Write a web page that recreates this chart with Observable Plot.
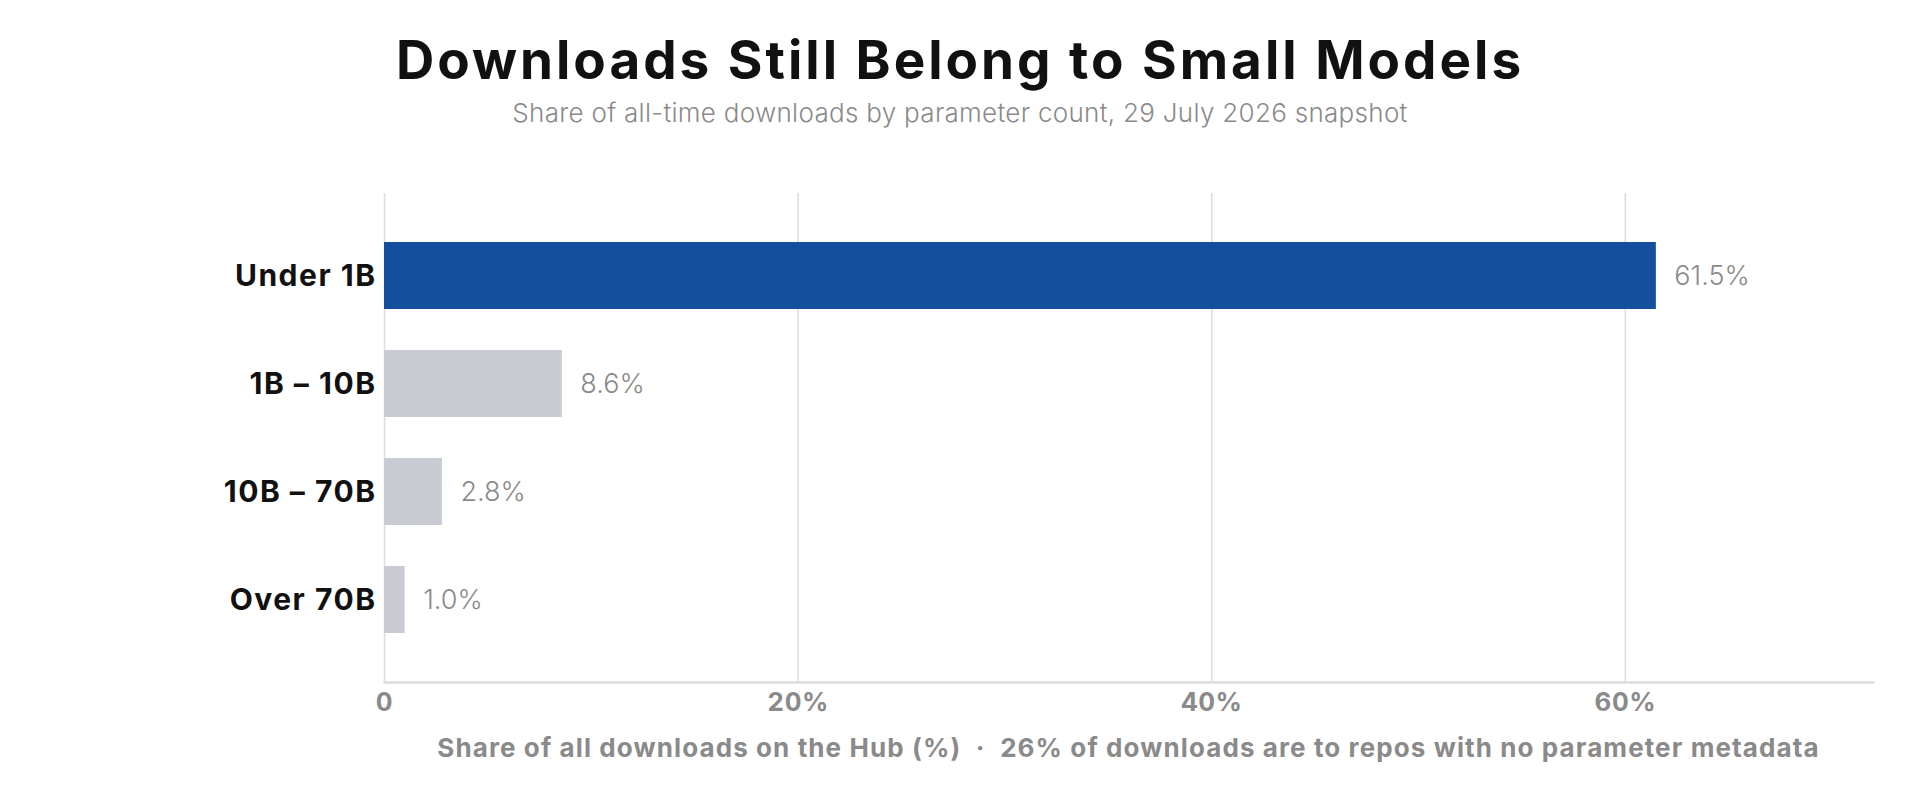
<!DOCTYPE html>
<html>
<head>
<meta charset="utf-8">
<script src="https://cdn.jsdelivr.net/npm/d3@7"></script>
<script src="https://cdn.jsdelivr.net/npm/@observablehq/plot@0.6"></script>
<style>
  html, body { margin: 0; padding: 0; background: #fff; }
  body { width: 1920px; height: 787px; overflow: hidden; font-family: Inter, "Noto Sans", sans-serif; }
  #header { height: 140px; position: relative; }
  #title { position: absolute; left: 0; width: 1920px; text-align: center; top: 30px; font-size: 53px; font-weight: 700; color: #111; line-height: 60px; letter-spacing: 3px; }
  #subtitle { position: absolute; left: 0; width: 1920px; text-align: center; top: 98px; font-size: 26px; font-weight: 300; color: #8a8a8a; line-height: 30px; letter-spacing: 0.3px; }
  #caption { margin-left: 384px; width: 1489px; text-align: center; font-size: 26px; font-weight: 700; color: #8a8a8a; line-height: 36px; letter-spacing: 1.1px; white-space: nowrap; }
  svg { display: block; }
  svg [aria-label="y-axis tick label"] text { letter-spacing: 1.5px; }
  svg [aria-label="x-axis tick label"] text { letter-spacing: 0.5px; }
</style>
</head>
<body>
<div id="header">
  <div id="title">Downloads Still Belong to Small Models</div>
  <div id="subtitle">Share of all-time downloads by parameter count, 29 July 2026 snapshot</div>
</div>
<div id="chart"></div>
<div id="caption">Share of all downloads on the Hub (%)&nbsp; · &nbsp;26% of downloads are to repos with no parameter metadata</div>
<script>
const categories = ["Under 1B", "1B – 10B", "10B – 70B", "Over 70B"];
const shares = [61.5, 8.6, 2.8, 1.0];
const highlight = [true, false, false, false];
const xTicks = [0, 20, 40, 60];

const data = categories.map((c, i) => ({category: c, share: shares[i], hi: highlight[i]}));

const chart = Plot.plot({
  width: 1920,
  height: 590,
  marginTop: 53,
  marginBottom: 48,
  marginLeft: 384,
  marginRight: 47,
  style: {fontFamily: "Inter, 'Noto Sans', sans-serif", background: "#fff"},
  x: {domain: [0, 72], ticks: xTicks},
  y: {domain: categories, paddingInner: 0.38, paddingOuter: 0.45},
  marks: [
    Plot.gridX(xTicks, {stroke: "#dcdcdc", strokeOpacity: 1, strokeWidth: 1.5}),
    Plot.frame({anchor: "bottom", stroke: "#dcdcdc", strokeWidth: 2.5}),
    Plot.barX(data, {x: "share", y: "category", fill: d => d.hi ? "#134f9d" : "#c9ccd3"}),
    Plot.text(data, {x: "share", y: "category", text: d => d.share.toFixed(1) + "%", textAnchor: "start", dx: 18, fill: "#8a8a8a", fontSize: 27, fontWeight: 300}),
    Plot.axisY({tickSize: 0, tickPadding: 8, label: null, fontSize: 30, fontWeight: 700, fill: "#111"}),
    Plot.axisX(xTicks, {tickSize: 0, tickPadding: 10, label: null, fontSize: 26, fontWeight: 700, fill: "#8a8a8a", tickFormat: d => d === 0 ? "0" : d + "%"})
  ]
});
document.getElementById("chart").appendChild(chart);
</script>
</body>
</html>
